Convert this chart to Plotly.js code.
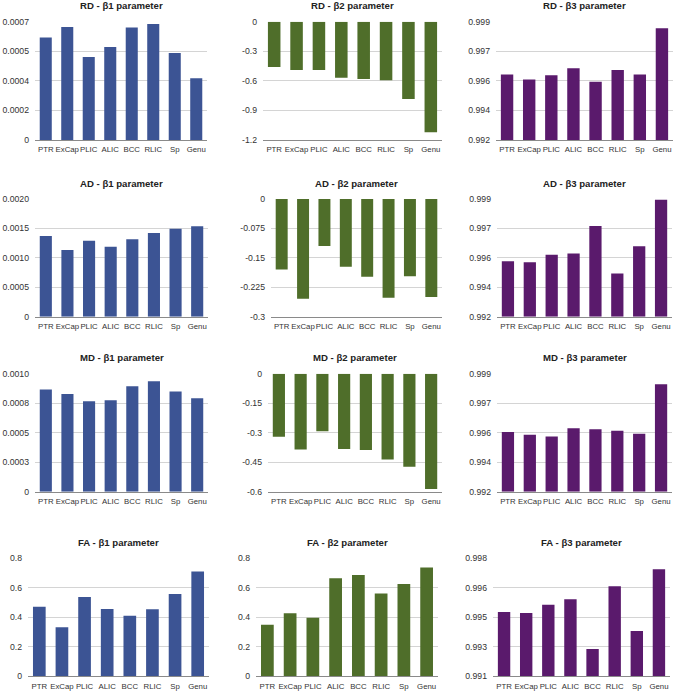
<!DOCTYPE html>
<html>
<head>
<meta charset="utf-8">
<script src="https://cdn.plot.ly/plotly-3.0.1.min.js"></script>
<style>
  html, body { margin: 0; padding: 0; background: #fff; }
  #plot { width: 677px; height: 692px; }
</style>
</head>
<body>
<div id="plot"></div>
<script>
// regions on the x axis
const regions = ['PTR', 'ExCap', 'PLIC', 'ALIC', 'BCC', 'RLIC', 'Sp', 'Genu'];

// values
const rdB1 = [0.000607, 0.000668, 0.000491, 0.000550, 0.000665, 0.000686, 0.000515, 0.000365];
const rdB2 = [-0.459, -0.490, -0.490, -0.568, -0.581, -0.595, -0.785, -1.122];
const rdB3 = [0.99587, 0.99558, 0.99583, 0.99624, 0.99544, 0.99614, 0.99587, 0.99861];

const adB1 = [0.001371, 0.001133, 0.001292, 0.001190, 0.001314, 0.001422, 0.001496, 0.001535];
const adB2 = [-0.1797, -0.2542, -0.1195, -0.1729, -0.1983, -0.2517, -0.1966, -0.2500];
const adB3 = [0.99530, 0.99524, 0.99568, 0.99576, 0.99740, 0.99457, 0.99619, 0.99896];

const mdB1 = [0.000867, 0.000828, 0.000766, 0.000774, 0.000893, 0.000935, 0.000850, 0.000791];
const mdB2 = [-0.320, -0.386, -0.292, -0.383, -0.388, -0.436, -0.473, -0.586];
const mdB3 = [0.99554, 0.99538, 0.99528, 0.99576, 0.99570, 0.99562, 0.99544, 0.99837];

const faB1 = [0.472, 0.332, 0.538, 0.457, 0.411, 0.454, 0.558, 0.710];
const faB2 = [0.349, 0.428, 0.397, 0.665, 0.687, 0.561, 0.626, 0.737];
const faB3 = [0.99481, 0.99475, 0.99524, 0.99557, 0.99262, 0.99634, 0.99368, 0.99735];

// tick values and the (rounded) labels shown next to the gridlines
const ticksB1RD = [0, 0.000175, 0.00035, 0.000525, 0.0007];
const labelsB1RD = ['0', '0.0002', '0.0004', '0.0005', '0.0007'];
const ticksB1AD = [0, 0.0005, 0.001, 0.0015, 0.002];
const labelsB1AD = ['0', '0.0005', '0.0010', '0.0015', '0.0020'];
const ticksB1MD = [0, 0.00025, 0.0005, 0.00075, 0.001];
const labelsB1MD = ['0', '0.0003', '0.0005', '0.0008', '0.0010'];
const ticksRD2 = [-1.2, -0.9, -0.6, -0.3, 0];
const labelsRD2 = ['-1.2', '-0.9', '-0.6', '-0.3', '0'];
const ticksAD2 = [-0.3, -0.225, -0.15, -0.075, 0];
const labelsAD2 = ['-0.3', '-0.225', '-0.15', '-0.075', '0'];
const ticksMD2 = [-0.6, -0.45, -0.3, -0.15, 0];
const labelsMD2 = ['-0.6', '-0.45', '-0.3', '-0.15', '0'];
const ticksB3 = [0.992, 0.99375, 0.9955, 0.99725, 0.999];
const labelsB3 = ['0.992', '0.994', '0.996', '0.997', '0.999'];
const ticksFA1 = [0, 0.2, 0.4, 0.6, 0.8];
const labelsFA1 = ['0', '0.2', '0.4', '0.6', '0.8'];
const ticksFA3 = [0.991, 0.99275, 0.9945, 0.99625, 0.998];
const labelsFA3 = ['0.991', '0.993', '0.995', '0.996', '0.998'];

const blue = '#3c5494';
const green = '#4f6e2a';
const purple = '#5a1a6c';

const W = 677, H = 692;

const panels = [
  { y: rdB1, c: blue,   t: 'RD - β1 parameter', tv: ticksB1RD, tt: labelsB1RD, x0: 35,  x1: 207, y0: 21.7,  y1: 140 },
  { y: rdB2, c: green,  t: 'RD - β2 parameter', tv: ticksRD2,  tt: labelsRD2,  x0: 263, x1: 442, y0: 21.7,  y1: 140 },
  { y: rdB3, c: purple, t: 'RD - β3 parameter', tv: ticksB3,   tt: labelsB3,   x0: 496, x1: 673, y0: 21.7,  y1: 140 },
  { y: adB1, c: blue,   t: 'AD - β1 parameter', tv: ticksB1AD, tt: labelsB1AD, x0: 35,  x1: 208, y0: 199,   y1: 316.7 },
  { y: adB2, c: green,  t: 'AD - β2 parameter', tv: ticksAD2,  tt: labelsAD2,  x0: 271, x1: 442, y0: 199,   y1: 316.7 },
  { y: adB3, c: purple, t: 'AD - β3 parameter', tv: ticksB3,   tt: labelsB3,   x0: 497, x1: 672, y0: 199,   y1: 316.7 },
  { y: mdB1, c: blue,   t: 'MD - β1 parameter', tv: ticksB1MD, tt: labelsB1MD, x0: 35,  x1: 208, y0: 373.7, y1: 491.7 },
  { y: mdB2, c: green,  t: 'MD - β2 parameter', tv: ticksMD2,  tt: labelsMD2,  x0: 268, x1: 442, y0: 373.7, y1: 491.7 },
  { y: mdB3, c: purple, t: 'MD - β3 parameter', tv: ticksB3,   tt: labelsB3,   x0: 497, x1: 672, y0: 373.7, y1: 491.7 },
  { y: faB1, c: blue,   t: 'FA - β1 parameter', tv: ticksFA1,  tt: labelsFA1,  x0: 28,  x1: 209, y0: 558.3, y1: 676.3 },
  { y: faB2, c: green,  t: 'FA - β2 parameter', tv: ticksFA1,  tt: labelsFA1,  x0: 256, x1: 438, y0: 558.3, y1: 676.3 },
  { y: faB3, c: purple, t: 'FA - β3 parameter', tv: ticksFA3,  tt: labelsFA3,  x0: 493, x1: 670, y0: 558.3, y1: 676.3 }
];

const data = [];
const layout = {
  width: W, height: H,
  margin: { l: 0, r: 0, t: 0, b: 0 },
  paper_bgcolor: '#fff', plot_bgcolor: '#fff',
  showlegend: false,
  bargap: 0.44,
  font: { family: 'Liberation Sans, Arial, sans-serif', color: '#333' },
  annotations: []
};

panels.forEach(function (p, i) {
  const n = i + 1;
  const xa = 'x' + (n === 1 ? '' : n), ya = 'y' + (n === 1 ? '' : n);
  const lo = p.tv[0], hi = p.tv[p.tv.length - 1];
  // β3 bars start at the bottom of the range, β2 bars hang from 0
  const base = lo > 0 ? lo : 0;
  data.push({
    type: 'bar', x: regions, y: p.y.map(function (v) { return v - base; }), base: base,
    xaxis: xa, yaxis: ya,
    marker: { color: p.c }, hoverinfo: 'x+y'
  });
  layout['xaxis' + (n === 1 ? '' : n)] = {
    domain: [p.x0 / W, p.x1 / W], anchor: ya,
    showgrid: false, zeroline: false, showline: true, linecolor: '#8a8a8a', linewidth: 1,
    ticks: '', tickangle: 0, ticklabelstandoff: 2,
    tickfont: { size: 7.8, color: '#333' }, fixedrange: true
  };
  layout['yaxis' + (n === 1 ? '' : n)] = {
    domain: [1 - p.y1 / H, 1 - p.y0 / H], anchor: xa,
    range: [lo, hi],
    tickvals: p.tv, ticktext: p.tt,
    showgrid: true, gridcolor: '#d4d4d4', gridwidth: 1, zeroline: false,
    showline: false, ticks: '', ticklabelstandoff: 5,
    tickfont: { size: 8.7, color: '#333' }, fixedrange: true
  };
  layout.annotations.push({
    text: '<b>' + p.t + '</b>', xref: 'paper', yref: 'paper',
    x: (p.x0 + p.x1) / 2 / W, y: 1 - (p.y0 - 8.5) / H,
    xanchor: 'center', yanchor: 'bottom', showarrow: false,
    font: { size: 9.6, color: '#222' }
  });
});

Plotly.newPlot('plot', data, layout, { displayModeBar: false, staticPlot: true });
</script>
</body>
</html>
